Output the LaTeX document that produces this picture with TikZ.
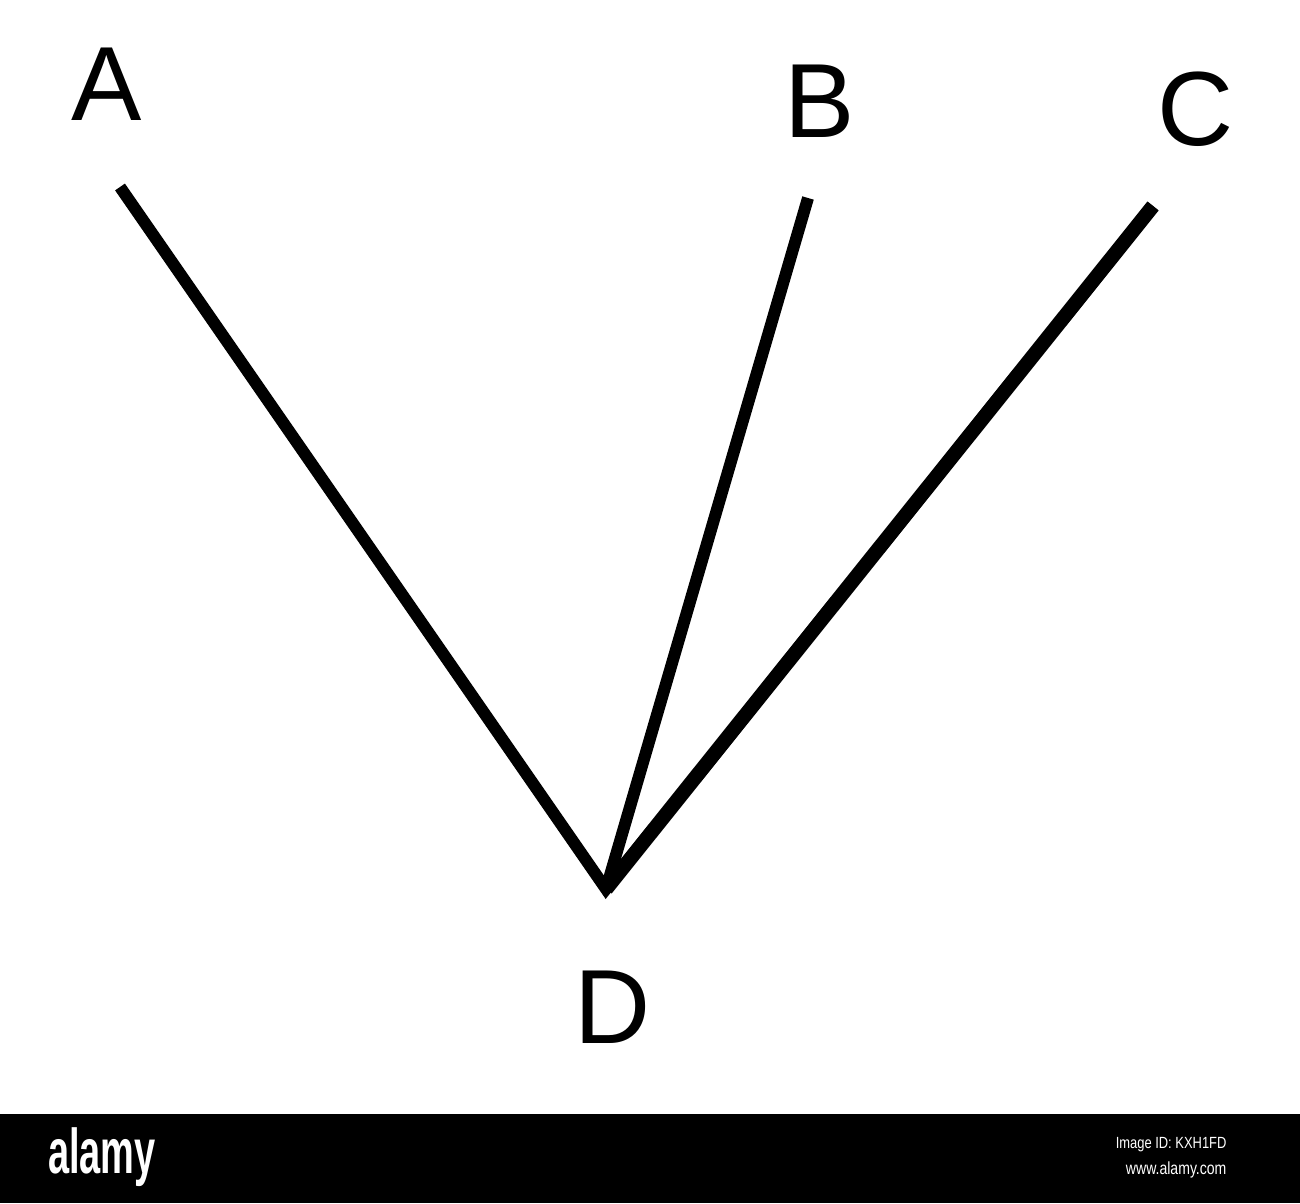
\documentclass[tikz,border=0pt]{standalone}
\usepackage{fontspec}
\setmainfont{Liberation Sans}
\usepackage{tikz}

\begin{document}
\begin{tikzpicture}[lbl/.style={inner sep=0pt, font=\fontsize{30}{34}\selectfont},
  edge/.style={line width=3.4pt, line join=miter}]
\useasboundingbox (0,0) rectangle (13,12.03);
% Labels at the ends
\node[lbl] (A) at (1.07,11.19) {A};
\node[lbl] (B) at (8.20,11.02) {B};
\node[lbl] (C) at (11.96,10.94) {C};
\node[lbl] (D) at (6.13,1.96) {D};

% Line ends and the meeting point
\coordinate (a) at (1.20,10.16);
\coordinate (b) at (8.08,10.05);
\coordinate (c) at (11.53,9.97);
\coordinate (v) at (6.06,3.14);

% Lines
\draw[edge] (a) -- (v) -- (c);
\draw[edge, line width=4.1pt] (v) -- (c);
\draw[edge] (b) -- (v);

% Bottom band
\fill[black] (0,0) rectangle (13,0.89);
\node[inner sep=0pt, text=white, font=\fontsize{18}{20}\selectfont\bfseries, xscale=0.6] (logo) at (1.02,0.46) {alamy};
\node[inner sep=0pt, anchor=east, text=white, font=\fontsize{4.6}{5}\selectfont, xscale=0.8] (imgid) at (12.27,0.58) {Image ID: KXH1FD};
\node[inner sep=0pt, anchor=east, text=white, font=\fontsize{5}{6}\selectfont, xscale=0.8] (site) at (12.27,0.33) {www.alamy.com};
\end{tikzpicture}
\end{document}
